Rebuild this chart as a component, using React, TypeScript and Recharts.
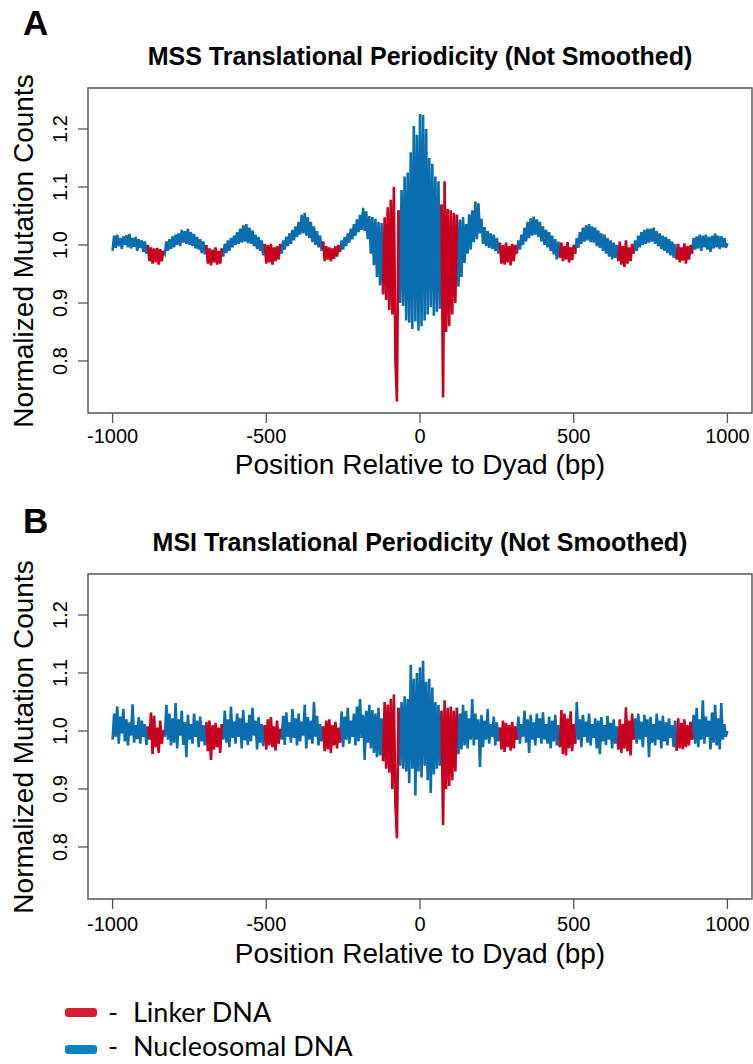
import React from 'react';
import { LineChart, Line, XAxis, YAxis, ReferenceArea } from 'recharts';

// positions relative to the dyad, sampled every 5 bp
const positions = Array.from({ length: 401 }, (_, i) => -1000 + i * 5);

// linker stretches between nucleosomes (bp), everything else is nucleosomal
const linkerRegions: [number, number][] = [
  [-885, -835], [-695, -645], [-505, -455], [-315, -260], [-120, -70],
  [70, 120], [260, 315], [455, 505], [645, 695], [835, 885],
];

// panel A: MSS (rows of 50 bp)
const mssValues = [
  0.990, 1.016, 0.995, 1.018, 0.998, 1.012, 0.993, 1.015, 1.000, 1.017,
  0.996, 1.019, 0.994, 1.012, 0.997, 1.014, 0.990, 1.010, 0.995, 1.008,
  0.988, 1.006, 0.985, 1.000, 0.972, 0.996, 0.968, 0.994, 0.970, 0.995,
  0.966, 0.993, 0.972, 0.990, 0.985, 1.006, 0.990, 1.010, 0.993, 1.015,
  0.996, 1.018, 1.000, 1.020, 0.998, 1.026, 1.004, 1.024, 1.002, 1.028,
  1.000, 1.022, 0.998, 1.019, 0.994, 1.014, 0.992, 1.010, 0.986, 1.006,
  0.984, 1.000, 0.968, 0.994, 0.965, 0.992, 0.970, 0.996, 0.966, 0.990,
  0.968, 0.994, 0.980, 1.002, 0.986, 1.008, 0.990, 1.012, 0.996, 1.016,
  1.000, 1.022, 1.002, 1.028, 1.004, 1.034, 1.006, 1.036, 1.003, 1.030,
  1.002, 1.025, 0.998, 1.018, 0.993, 1.014, 0.990, 1.008, 0.982, 1.002,
  0.968, 1.000, 0.970, 1.002, 0.966, 0.996, 0.972, 0.998, 0.975, 1.002,
  0.985, 1.008, 0.992, 1.014, 0.998, 1.020, 1.002, 1.026, 1.008, 1.032,
  1.014, 1.040, 1.018, 1.052, 1.020, 1.055, 1.016, 1.048, 1.012, 1.040,
  1.005, 1.032, 1.000, 1.024, 0.996, 1.016, 0.990, 1.006, 0.972, 0.998,
  0.975, 0.996, 0.972, 0.994, 0.976, 0.998, 0.980, 1.000, 0.988, 1.008,
  0.992, 1.014, 0.998, 1.020, 1.004, 1.028, 1.010, 1.036, 1.016, 1.044,
  1.022, 1.052, 1.026, 1.064, 1.024, 1.058, 1.010, 1.050, 0.985, 1.048,
  0.965, 1.045, 0.945, 1.040, 0.930, 1.038, 0.915, 1.048, 0.905, 1.065,
  0.888, 1.078, 0.880, 1.100, 0.802, 0.730, 1.060, 0.900, 1.095, 0.895,
  1.118, 0.870, 1.125, 0.866, 1.160, 0.855, 1.205, 0.868, 1.190, 0.852,
  1.226, 0.860, 1.224, 0.870, 1.200, 0.880, 1.150, 0.893, 1.140, 0.878,
  1.118, 0.885, 1.110, 0.890, 1.070, 0.737, 1.110, 0.850, 1.062, 0.860,
  1.060, 0.880, 1.055, 0.900, 1.052, 0.928, 1.044, 0.945, 1.048, 0.969,
  1.036, 0.985, 1.053, 0.992, 1.060, 1.005, 1.075, 1.010, 1.072, 1.020,
  1.045, 1.002, 1.031, 0.998, 1.024, 0.995, 1.020, 0.993, 1.018, 0.990,
  1.012, 0.985, 1.004, 0.968, 1.000, 0.966, 1.004, 0.970, 0.998, 0.965,
  1.002, 0.972, 1.000, 0.985, 1.008, 0.992, 1.018, 1.000, 1.030, 1.006,
  1.040, 1.012, 1.046, 1.016, 1.049, 1.018, 1.044, 1.014, 1.040, 1.006,
  1.032, 1.000, 1.026, 0.996, 1.022, 0.990, 1.016, 0.984, 1.010, 0.975,
  1.006, 0.978, 1.004, 0.972, 0.998, 0.975, 1.005, 0.970, 0.996, 0.974,
  1.000, 0.985, 1.012, 0.995, 1.022, 1.002, 1.030, 1.006, 1.034, 1.008,
  1.036, 1.005, 1.032, 1.004, 1.030, 0.998, 1.025, 0.995, 1.020, 0.990,
  1.018, 0.985, 1.012, 0.980, 1.008, 0.975, 1.004, 0.978, 1.000, 0.972,
  1.006, 0.966, 0.998, 0.962, 1.008, 0.968, 0.996, 0.972, 1.002, 0.985,
  1.008, 0.990, 1.016, 0.996, 1.022, 1.000, 1.026, 1.002, 1.028, 1.004,
  1.028, 1.006, 1.030, 1.002, 1.024, 0.998, 1.020, 0.993, 1.016, 0.990,
  1.014, 0.986, 1.010, 0.982, 1.006, 0.978, 1.002, 0.975, 1.002, 0.970,
  0.996, 0.973, 1.003, 0.968, 0.998, 0.975, 1.000, 0.985, 1.012, 0.992,
  1.015, 0.994, 1.018, 0.990, 1.016, 0.996, 1.018, 0.992, 1.014, 0.988,
  1.016, 0.994, 1.020, 0.996, 1.016, 0.993, 1.015, 0.996, 1.012, 0.995,
  1.003,
];

// panel B: MSI
const msiValues = [
  0.985, 1.030, 0.990, 1.042, 0.978, 1.025, 0.996, 1.038, 0.982, 1.020,
  0.975, 1.015, 0.992, 1.046, 0.980, 1.010, 0.986, 1.024, 0.978, 1.018,
  0.990, 1.012, 0.976, 1.008, 0.985, 1.032, 0.960, 1.026, 0.972, 1.006,
  0.962, 1.018, 0.978, 1.002, 0.990, 1.045, 0.985, 1.030, 0.975, 1.022,
  0.980, 1.048, 0.970, 1.020, 0.992, 1.035, 0.976, 1.015, 0.955, 1.028,
  0.985, 1.012, 0.978, 1.030, 0.990, 1.018, 0.972, 1.025, 0.982, 1.010,
  0.975, 1.015, 0.965, 1.018, 0.950, 1.010, 0.968, 1.014, 0.972, 1.006,
  0.962, 1.012, 0.985, 1.035, 0.980, 1.020, 0.972, 1.042, 0.988, 1.016,
  0.978, 1.030, 0.990, 1.022, 0.970, 1.036, 0.984, 1.014, 0.976, 1.028,
  0.982, 1.040, 0.992, 1.018, 0.968, 1.024, 0.980, 1.012, 0.974, 1.010,
  0.968, 1.020, 0.975, 1.024, 0.972, 1.008, 0.966, 1.018, 0.978, 1.004,
  0.985, 1.026, 0.976, 1.032, 0.990, 1.015, 0.980, 1.038, 0.988, 1.022,
  0.975, 1.030, 0.982, 1.016, 0.992, 1.045, 0.970, 1.024, 0.985, 1.018,
  0.978, 1.050, 0.990, 1.026, 0.975, 1.012, 0.982, 1.008, 0.965, 1.018,
  0.968, 1.020, 0.962, 1.010, 0.975, 1.016, 0.970, 1.006, 0.980, 1.034,
  0.972, 1.025, 0.985, 1.040, 0.978, 1.018, 0.990, 1.030, 0.975, 1.042,
  0.982, 1.055, 0.988, 1.028, 0.950, 1.035, 0.980, 1.045, 0.970, 1.036,
  0.962, 1.030, 0.955, 1.040, 0.958, 1.022, 0.948, 1.050, 0.935, 1.045,
  0.928, 1.055, 0.900, 1.063, 0.875, 0.815, 1.040, 0.940, 1.050, 0.935,
  1.060, 0.930, 1.055, 0.910, 1.114, 0.935, 1.090, 0.889, 1.100, 0.930,
  1.110, 0.920, 1.121, 0.940, 1.085, 0.915, 1.090, 0.893, 1.075, 0.925,
  1.050, 0.935, 1.045, 0.940, 1.035, 0.838, 1.053, 0.900, 1.040, 0.905,
  1.042, 0.915, 1.035, 0.930, 1.040, 0.960, 1.030, 0.968, 1.045, 0.975,
  1.035, 0.970, 1.022, 0.985, 1.055, 0.975, 1.030, 0.985, 1.020, 0.938,
  1.028, 0.972, 1.018, 0.985, 1.038, 0.978, 1.012, 0.990, 1.025, 0.975,
  1.015, 0.982, 1.006, 0.968, 1.018, 0.964, 1.014, 0.972, 1.010, 0.966,
  1.016, 0.970, 1.008, 0.985, 1.025, 0.978, 1.012, 0.990, 1.035, 0.980,
  1.020, 0.962, 1.028, 0.985, 1.015, 0.975, 1.030, 0.988, 1.022, 0.978,
  1.032, 0.985, 1.012, 0.978, 1.025, 0.970, 1.018, 0.982, 1.028, 0.975,
  1.010, 0.972, 1.036, 0.960, 1.030, 0.958, 1.022, 0.970, 1.034, 0.965,
  1.012, 0.978, 1.050, 0.985, 1.020, 0.972, 1.028, 0.990, 1.016, 0.980,
  1.030, 0.975, 1.012, 0.988, 1.022, 0.970, 1.018, 0.960, 1.024, 0.982,
  1.010, 0.976, 1.026, 0.985, 1.014, 0.970, 1.020, 0.978, 1.008, 0.968,
  1.020, 0.962, 1.012, 0.970, 1.041, 0.965, 1.018, 0.958, 1.030, 0.985,
  1.022, 0.978, 1.030, 0.985, 1.016, 0.972, 1.028, 0.990, 1.020, 0.955,
  1.024, 0.980, 1.012, 0.975, 1.030, 0.985, 1.018, 0.970, 1.026, 0.982,
  1.015, 0.975, 1.022, 0.988, 1.010, 0.972, 1.018, 0.966, 1.022, 0.970,
  1.014, 0.968, 1.020, 0.972, 1.010, 0.975, 1.016, 0.985, 1.028, 0.978,
  1.040, 0.972, 1.020, 0.985, 1.053, 0.978, 1.025, 0.990, 1.018, 0.968,
  1.032, 0.980, 1.045, 0.975, 1.022, 0.968, 1.048, 0.985, 1.012, 0.990,
  1.000,
];

const xTicks = [-1000, -500, 0, 500, 1000];
const yTicks = [0.8, 0.9, 1.0, 1.1, 1.2];

const LINKER = '#c8001f';
const NUCLEO = '#0a6dad';
const AXIS = '#555555';
const FONT = '"Liberation Sans", Arial, sans-serif';
const X_DOMAIN: [number, number] = [-1080, 1080];
const Y_DOMAIN: [number, number] = [0.7103, 1.2707];

function buildRows(values: number[]) {
  return positions.map((pos, i) => {
    const inLinker = linkerRegions.some(([a, b]) => pos >= a && pos <= b);
    const onEdge = linkerRegions.some(([a, b]) => pos === a || pos === b);
    return {
      pos,
      linker: inLinker ? values[i] : null,
      nucleosomal: !inLinker || onEdge ? values[i] : null,
    };
  });
}

const makeXTick = (dy: number) => (props: any) => {
  const { x, y, payload } = props;
  return (
    <text x={x} y={y + dy} textAnchor="middle" fontFamily={FONT} fontSize={20} fill="#000">
      {payload.value}
    </text>
  );
};

const YTick = (props: any) => {
  const { x, y, payload } = props;
  const bx = x - 9;
  return (
    <text x={bx} y={y} transform={`rotate(-90, ${bx}, ${y})`} textAnchor="middle" fontFamily={FONT} fontSize={20} fill="#000">
      {Number(payload.value).toFixed(1)}
    </text>
  );
};

interface PanelProps {
  letter: string;
  title: string;
  values: number[];
  top: number;
  letterY: number;
  titleY: number;
  tickDy: number;
  xTitleY: number;
}

function Panel({ letter, title, values, top, letterY, titleY, tickDy, xTitleY }: PanelProps) {
  const rows = buildRows(values);
  return (
    <div style={{ position: 'absolute', left: 0, top, width: 753, height: 486 }}>
      <LineChart width={753} height={486} data={rows} margin={{ top: 88, right: 1, bottom: 0, left: 0 }}>
        <XAxis
          dataKey="pos"
          type="number"
          domain={X_DOMAIN}
          ticks={xTicks}
          interval={0}
          allowDataOverflow
          height={73}
          tickSize={10}
          axisLine={false}
          tickLine={{ stroke: AXIS, strokeWidth: 1.3 }}
          tick={makeXTick(tickDy)}
        />
        <YAxis
          type="number"
          domain={Y_DOMAIN}
          ticks={yTicks}
          interval={0}
          allowDataOverflow
          width={88}
          tickSize={10}
          axisLine={false}
          tickLine={{ stroke: AXIS, strokeWidth: 1.3 }}
          tick={YTick}
        />
        <ReferenceArea
          x1={X_DOMAIN[0]}
          x2={X_DOMAIN[1]}
          y1={Y_DOMAIN[0]}
          y2={Y_DOMAIN[1]}
          fill="none"
          stroke={AXIS}
          strokeWidth={1.4}
          ifOverflow="visible"
        />
        <Line
          dataKey="nucleosomal"
          stroke={NUCLEO}
          strokeWidth={2.6}
          dot={false}
          activeDot={false}
          connectNulls={false}
          isAnimationActive={false}
        />
        <Line
          dataKey="linker"
          stroke={LINKER}
          strokeWidth={2.6}
          dot={false}
          activeDot={false}
          connectNulls={false}
          isAnimationActive={false}
        />
      </LineChart>
      <svg width={753} height={486} style={{ position: 'absolute', left: 0, top: 0, pointerEvents: 'none' }}>
        <text x={23} y={letterY} fontFamily={FONT} fontWeight="bold" fontSize={35} fill="#000">
          {letter}
        </text>
        <text x={420} y={titleY} textAnchor="middle" fontFamily={FONT} fontWeight="bold" fontSize={25} fill="#000">
          {title}
        </text>
        <text x={420} y={xTitleY} textAnchor="middle" fontFamily={FONT} fontSize={28} fill="#000">
          Position Relative to Dyad (bp)
        </text>
        <text x={33} y={251} transform="rotate(-90, 33, 251)" textAnchor="middle" fontFamily={FONT} fontSize={28} fill="#000">
          Normalized Mutation Counts
        </text>
      </svg>
    </div>
  );
}

function LegendBlock() {
  const font = 'Lato, "Noto Sans", sans-serif';
  return (
    <svg width={753} height={74} style={{ position: 'absolute', left: 0, top: 988 }}>
      <rect x={65} y={20} width={32} height={9} rx={3} fill="#d4202e" />
      <text x={108} y={34} fontFamily={font} fontSize={27} fill="#000">-</text>
      <text x={133} y={34} fontFamily={font} fontSize={27} fill="#000">Linker DNA</text>
      <rect x={65} y={57} width={32} height={9} rx={3} fill="#0b82c3" />
      <text x={108} y={68} fontFamily={font} fontSize={27} fill="#000">-</text>
      <text x={133} y={68} fontFamily={font} fontSize={27} fill="#000">Nucleosomal DNA</text>
    </svg>
  );
}

export default function App() {
  return (
    <div style={{ position: 'absolute', left: 0, top: 0, width: 753, height: 1064, background: '#fff', overflow: 'hidden' }}>
      <Panel
        letter="A"
        title="MSS Translational Periodicity (Not Smoothed)"
        values={mssValues}
        top={0}
        letterY={35}
        titleY={65}
        tickDy={18}
        xTitleY={474}
      />
      <Panel
        letter="B"
        title="MSI Translational Periodicity (Not Smoothed)"
        values={msiValues}
        top={486}
        letterY={47}
        titleY={65}
        tickDy={20}
        xTitleY={477}
      />
      <LegendBlock />
    </div>
  );
}
